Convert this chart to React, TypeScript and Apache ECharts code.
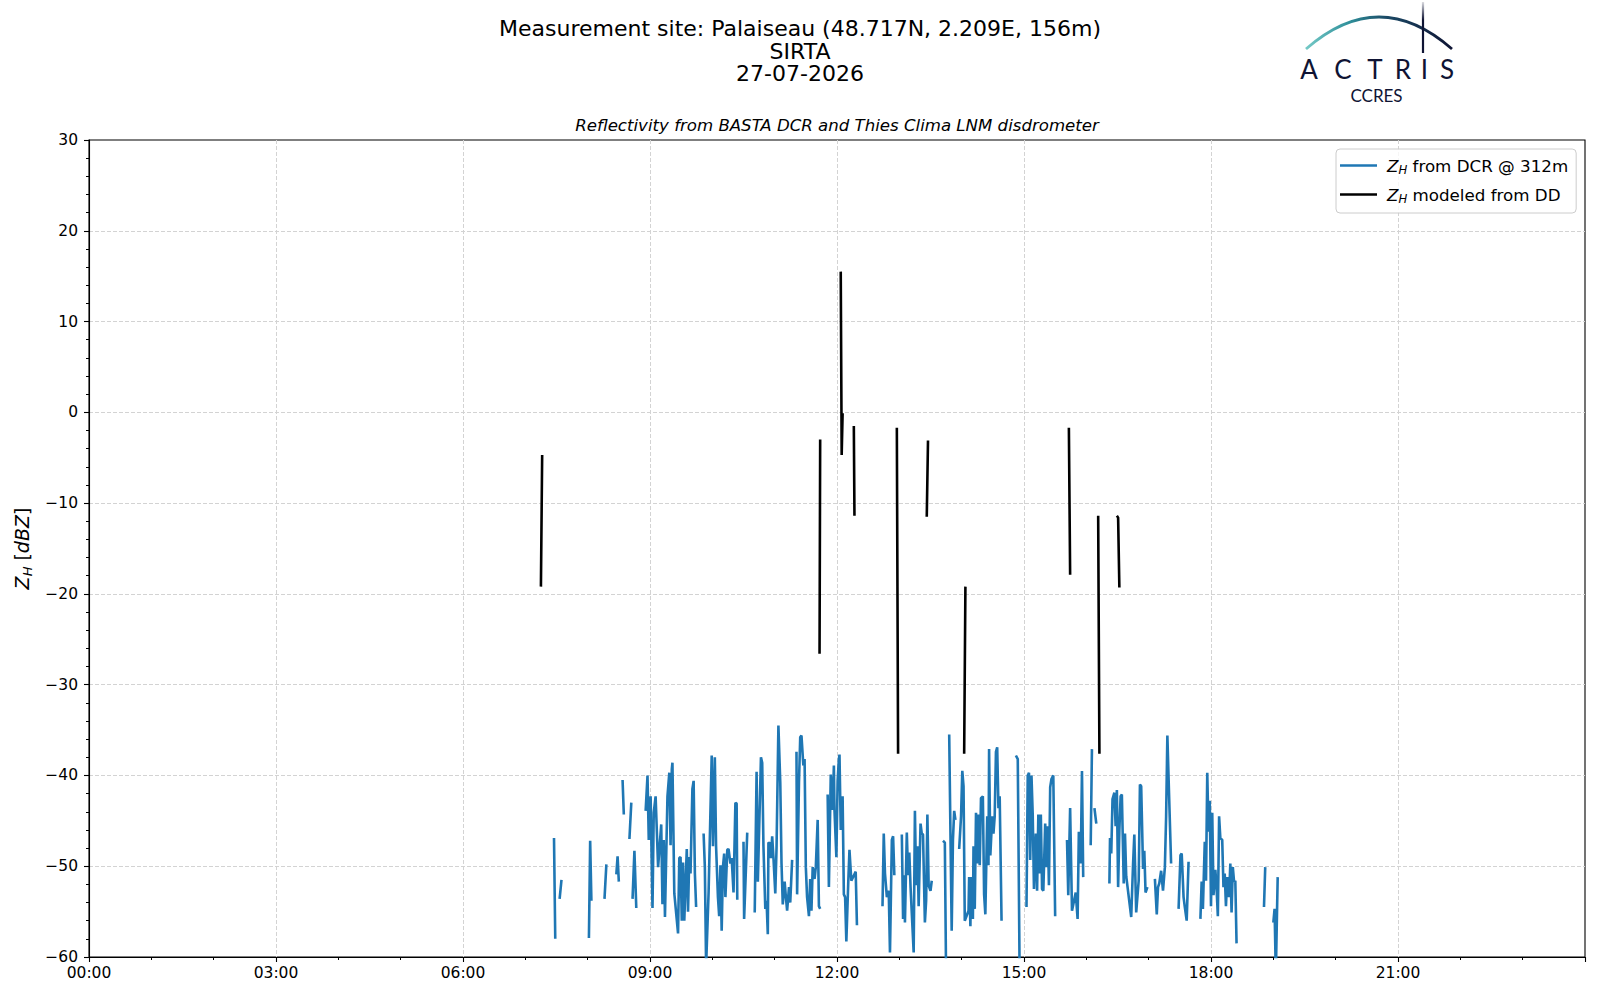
import React, { useEffect, useRef } from 'react';
import * as echarts from 'echarts';

const FONT = '"DejaVu Sans", sans-serif';
const LOGO_FONT = 'Lato, "Open Sans", sans-serif';

const titleLines = ['Measurement site: Palaiseau (48.717N, 2.209E, 156m)', 'SIRTA', '27-07-2026'];
const subTitle = 'Reflectivity from BASTA DCR and Thies Clima LNM disdrometer';

const xTickLabels = ['00:00', '03:00', '06:00', '09:00', '12:00', '15:00', '18:00', '21:00'];

// Z_H from DCR @ 312m (hours UTC, dBZ); null marks a gap in the record
const dcrHours = [
  7.46, 7.48, null,
  7.55, 7.58, null,
  8.02, 8.04, 8.06, null,
  8.27, 8.30, null,
  8.46, 8.48, 8.50, null,
  8.56, 8.58, null,
  8.67, 8.70, null,
  8.72, 8.75, 8.78, null,
  8.93, 8.96, 8.98, 9.01, 9.04, 9.06, 9.09, 9.13, 9.18, 9.20, 9.22, 9.24, 9.28, 9.31, 9.33, 9.35, 9.36, 9.39, 9.45, 9.47, 9.49, 9.51, 9.53, 9.55, 9.59, 9.61, 9.63, 9.65, 9.68, 9.70, 9.72, 9.74, null,
  9.86, 9.88, 9.90, 9.94, 9.99, 10.01, 10.04, 10.06, 10.09, 10.11, 10.13, 10.15, 10.17, 10.19, 10.21, 10.24, 10.26, 10.29, 10.31, 10.34, 10.37, 10.39, 10.40, null,
  10.50, 10.51, 10.56, null,
  10.68, 10.71, 10.73, 10.78, 10.80, 10.82, 10.85, 10.87, 10.89, 10.90, 10.93, 10.94, 10.96, 10.98, 11.01, 11.03, 11.06, 11.09, 11.11, 11.13, 11.16, 11.18, 11.20, 11.23, 11.25, 11.28, null,
  11.35, 11.36, 11.39, 11.41, 11.43, 11.46, 11.48, 11.50, 11.52, 11.55, 11.57, 11.59, 11.61, 11.64, 11.66, 11.69, 11.71, 11.73, null,
  11.85, 11.87, 11.90, 11.93, 11.95, 11.96, 11.99, 12.01, 12.03, 12.04, 12.06, 12.09, 12.11, 12.13, 12.15, 12.18, 12.20, 12.23, 12.30, 12.32, null,
  12.73, 12.75, 12.77, 12.80, 12.83, 12.85, 12.88, 12.90, 12.92, null,
  13.04, 13.06, 13.08, 13.09, 13.12, 13.14, 13.16, 13.18, 13.23, 13.25, 13.27, 13.29, 13.31, 13.34, 13.36, 13.38, 13.41, 13.43, 13.45, 13.47, 13.50, 13.52, null,
  13.70, 13.73, 13.75, null,
  13.80, 13.84, 13.86, 13.88, 13.90, null,
  13.96, 13.99, 14.01, 14.03, 14.05, 14.11, 14.12, 14.14, 14.15, 14.18, 14.19, 14.21, 14.23, 14.25, 14.27, 14.29, 14.31, 14.34, 14.36, 14.38, 14.41, 14.43, 14.44, 14.46, 14.49, 14.51, 14.53, 14.55, 14.57, 14.59, 14.61, 14.64, null,
  14.87, 14.90, 14.93, null,
  15.04, 15.06, 15.08, 15.10, 15.12, 15.14, 15.16, 15.19, 15.21, 15.23, 15.25, 15.27, 15.29, 15.31, 15.34, 15.36, 15.38, 15.40, 15.42, 15.44, 15.47, 15.50, null,
  15.69, 15.71, 15.74, 15.77, 15.83, 15.86, 15.88, 15.91, 15.93, 15.95, null,
  16.07, 16.09, null,
  16.13, 16.16, null,
  16.37, 16.38, 16.40, 16.42, 16.45, 16.47, 16.49, 16.51, 16.53, 16.55, 16.57, 16.60, 16.62, 16.64, 16.72, 16.75, 16.77, 16.80, 16.84, 16.86, 16.88, 16.91, 16.93, 16.95, 16.98, null,
  17.10, 17.13, 17.15, 17.17, 17.20, 17.23, 17.26, 17.28, 17.30, 17.32, 17.36, null,
  17.48, 17.51, 17.53, 17.56, 17.58, 17.61, 17.64, null,
  17.83, 17.85, 17.87, 17.90, 17.92, 17.94, 17.96, 17.98, 18.00, 18.02, 18.04, 18.07, 18.09, 18.11, 18.13, 18.15, 18.18, 18.20, 18.22, 18.24, 18.26, 18.29, 18.31, 18.33, 18.35, 18.37, 18.39, 18.41, null,
  18.85, 18.87, null,
  19.00, 19.02, 19.04, 19.06, 19.07,
];

const dcrDbz = [
  -46.9, -58.0, null,
  -53.6, -51.5, null,
  -57.9, -47.2, -53.8, null,
  -53.6, -49.8, null,
  -50.9, -48.9, -51.7, null,
  -40.5, -44.3, null,
  -47.0, -43.0, null,
  -53.6, -48.3, -54.6, null,
  -43.9, -40.0, -47.1, -42.3, -54.6, -44.1, -42.3, -50.1, -45.4, -54.2, -47.1, -55.6, -42.3, -39.7, -47.7, -39.3, -38.6, -53.0, -57.4, -49.1, -49.0, -56.0, -49.6, -56.0, -48.1, -55.0, -49.0, -50.8, -41.5, -40.6, -50.8, -54.5, null,
  -46.4, -50.1, -61.0, -52.9, -37.8, -47.8, -38.0, -47.8, -53.4, -55.5, -49.9, -57.1, -50.1, -48.6, -53.4, -48.2, -48.1, -49.7, -49.1, -52.9, -43.0, -43.1, -53.7, null,
  -47.3, -55.8, -46.3, null,
  -55.1, -39.6, -51.7, -38.0, -38.6, -47.8, -54.7, -53.8, -57.5, -47.4, -47.5, -49.1, -46.7, -49.0, -53.0, -48.0, -34.5, -40.8, -49.7, -54.2, -51.7, -53.4, -54.9, -52.3, -54.0, -49.3, null,
  -37.4, -53.1, -40.8, -35.8, -35.6, -38.9, -38.2, -50.1, -53.4, -55.5, -51.4, -54.9, -50.1, -51.4, -50.1, -44.9, -54.4, -54.7, null,
  -42.1, -52.3, -39.9, -43.8, -38.9, -43.9, -49.0, -40.6, -38.2, -37.7, -46.0, -42.3, -53.1, -53.4, -58.3, -51.9, -48.2, -51.6, -50.6, -56.5, null,
  -54.4, -46.4, -50.8, -53.4, -52.7, -59.5, -47.1, -46.7, -51.0, null,
  -46.5, -55.8, -51.0, -56.2, -46.3, -51.0, -48.5, -52.3, -59.5, -43.9, -52.1, -47.8, -54.4, -45.3, -46.4, -46.5, -56.2, -53.8, -44.3, -52.1, -52.7, -51.6, null,
  -47.2, -47.4, -62.0, null,
  -35.5, -57.1, -47.1, -43.9, -44.9, null,
  -48.1, -44.5, -39.5, -41.2, -56.0, -54.9, -51.2, -56.6, -51.2, -55.8, -47.8, -54.7, -44.1, -49.7, -44.3, -49.9, -42.5, -42.3, -53.1, -55.3, -44.5, -49.9, -37.1, -48.8, -44.5, -46.4, -44.5, -37.4, -36.9, -43.6, -42.3, -56.0, null,
  -37.8, -38.2, -62.0, null,
  -54.5, -40.0, -39.7, -49.3, -40.0, -44.3, -52.5, -46.4, -52.7, -44.3, -50.8, -44.3, -52.5, -52.7, -45.3, -50.1, -45.6, -52.1, -41.3, -40.4, -40.0, -55.5, null,
  -47.1, -53.2, -43.6, -54.9, -52.9, -55.8, -46.2, -49.7, -39.5, -51.2, null,
  -47.7, -37.1, null,
  -43.6, -45.3, null,
  -51.9, -46.9, -48.6, -42.6, -41.9, -45.6, -41.6, -52.3, -46.0, -42.3, -42.1, -51.9, -46.4, -51.1, -55.6, -49.7, -46.5, -55.1, -51.6, -41.0, -41.2, -50.3, -48.3, -52.9, -52.3, null,
  -51.4, -55.3, -52.3, -51.9, -50.5, -52.7, -50.1, -44.5, -35.6, -40.4, -49.7, null,
  -54.7, -48.8, -48.6, -53.4, -54.5, -56.0, -49.5, null,
  -55.8, -51.7, -54.7, -47.3, -51.6, -39.7, -46.2, -42.8, -54.4, -44.1, -53.2, -50.4, -52.5, -55.5, -44.5, -46.9, -47.1, -52.3, -50.8, -54.4, -51.2, -53.4, -49.7, -55.1, -50.1, -51.7, -51.6, -58.5, null,
  -54.5, -50.1, null,
  -56.2, -54.7, -62.0, -54.7, -51.2,
];

// Z_H modeled from disdrometer DSD
const ddHours = [
  7.25, 7.27, null,
  11.72, 11.73, null,
  12.06, 12.075, 12.09, null,
  12.27, 12.28, null,
  12.96, 12.98, null,
  13.44, 13.46, null,
  14.04, 14.06, null,
  15.72, 15.74, null,
  16.19, 16.21, null,
  16.49, 16.51, 16.53,
];
const ddDbz = [
  -19.2, -4.7, null,
  -26.6, -3.0, null,
  15.5, -4.7, -0.1, null,
  -1.5, -11.4, null,
  -1.7, -37.6, null,
  -11.5, -3.1, null,
  -37.6, -19.2, null,
  -1.7, -17.9, null,
  -11.4, -37.6, null,
  -11.4, -11.6, -19.3,
];

const logoLetters = ['A', 'C', 'T', 'R', 'I', 'S'];
const logoLetterX = [1309, 1343, 1375, 1403, 1424.5, 1447];

function toPairs(hours: (number | null)[], vals: (number | null)[]) {
  return hours.map((h, i) => {
    const v = vals[i];
    if (h == null || v == null) return [NaN, NaN];
    return [h, v];
  });
}

export default function App() {
  const ref = useRef<HTMLDivElement>(null);
  useEffect(() => {
    if (!ref.current) return;
    const chart = echarts.init(ref.current, null, { renderer: 'svg' });
    const navy = '#0f1434';
    const arcGrad = new echarts.graphic.LinearGradient(1306, 0, 1452, 0, [
      { offset: 0, color: '#74c9c6' },
      { offset: 0.3, color: '#2f8f9a' },
      { offset: 0.55, color: '#1b4a66' },
      { offset: 1, color: navy },
    ], true);
    const vGrad = new echarts.graphic.LinearGradient(0, 2, 0, 53, [
      { offset: 0, color: 'rgba(15,20,52,0.15)' },
      { offset: 0.35, color: navy },
      { offset: 1, color: navy },
    ], true);

    const graphics: any[] = [
      ...titleLines.map((t, i) => ({
        type: 'text', x: 800, y: [28, 51.2, 73.7][i],
        style: { text: t, fontSize: 22, fontFamily: FONT, fill: '#000', align: 'center', verticalAlign: 'middle' },
      })),
      {
        type: 'text', x: 837, y: 125,
        style: { text: subTitle, fontSize: 16.6, fontStyle: 'italic', fontFamily: FONT, fill: '#000', align: 'center', verticalAlign: 'middle' },
      },
      {
        type: 'bezierCurve',
        shape: { x1: 1306, y1: 49, x2: 1452, y2: 49, cpx1: 1379, cpy1: -15 },
        style: { stroke: arcGrad, lineWidth: 2.8, fill: 'none' },
      },
      {
        type: 'line',
        shape: { x1: 1423, y1: 2, x2: 1423, y2: 53 },
        style: { stroke: vGrad, lineWidth: 2.2 },
      },
      ...logoLetters.map((l, i) => ({
        type: 'text', x: logoLetterX[i], y: 68.5,
        style: { text: l, fontSize: 26, lineHeight: 20, fontFamily: LOGO_FONT, fill: navy, align: 'center', verticalAlign: 'middle' },
      })),
      {
        type: 'text', x: 1376.5, y: 95,
        style: { text: 'CCRES', fontSize: 17, lineHeight: 14, fontFamily: LOGO_FONT, fill: navy, align: 'center', verticalAlign: 'middle' },
      },
    ];

    const option: any = {
      animation: false,
      backgroundColor: '#ffffff',
      textStyle: { fontFamily: FONT },
      grid: {
        left: 89, right: 15, top: 140, bottom: 43,
        show: true, borderColor: '#000', borderWidth: 1.1, backgroundColor: 'transparent',
      },
      xAxis: {
        type: 'value', min: 0, max: 24, interval: 3,
        axisLine: { show: true, onZero: false, lineStyle: { color: '#000', width: 1.1 } },
        axisTick: { show: true, length: 5, lineStyle: { color: '#000', width: 1.1 } },
        minorTick: { show: true, splitNumber: 3, length: 3, lineStyle: { color: '#000', width: 1 } },
        splitLine: { show: true, showMinLine: false, showMaxLine: false, lineStyle: { color: '#d3d3d3', width: 1, type: [4, 2] } },
        axisLabel: {
          color: '#000', fontSize: 15.5, fontFamily: FONT, margin: 8,
          formatter: (v: number) => (v % 3 === 0 && v < 24 ? xTickLabels[v / 3] : ''),
        },
      },
      yAxis: {
        type: 'value', min: -60, max: 30, interval: 10,
        name: '{i|Z}{s|H}{r| [}{i|dBZ}{r|]}',
        nameLocation: 'middle', nameGap: 54, nameRotate: 90,
        nameTextStyle: {
          color: '#000', fontFamily: FONT, fontSize: 19,
          rich: {
            i: { fontStyle: 'italic', fontSize: 19, color: '#000', fontFamily: FONT, lineHeight: 22 },
            s: { fontStyle: 'italic', fontSize: 13, color: '#000', fontFamily: FONT, lineHeight: 13, padding: [11, 0, 0, 0] },
            r: { fontSize: 19, color: '#000', fontFamily: FONT, lineHeight: 22 },
          },
        },
        axisLine: { show: true, onZero: false, lineStyle: { color: '#000', width: 1.1 } },
        axisTick: { show: true, length: 5, lineStyle: { color: '#000', width: 1.1 } },
        minorTick: { show: true, splitNumber: 5, length: 3, lineStyle: { color: '#000', width: 1 } },
        splitLine: { show: true, showMinLine: false, showMaxLine: false, lineStyle: { color: '#d3d3d3', width: 1, type: [4, 2] } },
        axisLabel: {
          color: '#000', fontSize: 15.5, fontFamily: FONT, margin: 11,
          formatter: (v: number) => (v < 0 ? '\u2212' + Math.abs(v) : String(v)),
        },
      },
      legend: {
        data: ['dcr', 'dd'],
        orient: 'vertical', left: 1336, top: 149,
        itemWidth: 37, itemHeight: 2.4, itemGap: 8, icon: 'rect',
        padding: [6, 8, 8, 4],
        backgroundColor: 'rgba(255,255,255,0.8)', borderColor: '#cccccc', borderWidth: 1, borderRadius: 4,
        selectedMode: false,
        itemStyle: { borderWidth: 0 },
        formatter: (n: string) => (n === 'dcr' ? '{z|Z}{s|H}{t| from DCR @ 312m}' : '{z|Z}{s|H}{t| modeled from DD}'),
        textStyle: {
          color: '#000', fontFamily: FONT, fontSize: 16.7,
          rich: {
            z: { fontStyle: 'italic', fontSize: 16.7, color: '#000', fontFamily: FONT, lineHeight: 20, padding: [0, 0, 0, 5] },
            s: { fontStyle: 'italic', fontSize: 11.7, color: '#000', fontFamily: FONT, lineHeight: 12, padding: [9, 0, 0, 0] },
            t: { fontSize: 16.7, color: '#000', fontFamily: FONT, lineHeight: 20 },
          },
        },
      },
      graphic: { elements: graphics },
      series: [
        {
          name: 'dcr', type: 'line', data: toPairs(dcrHours, dcrDbz),
          symbol: 'none', showSymbol: false, connectNulls: false, clip: true,
          lineStyle: { color: '#1f77b4', width: 2.6 }, itemStyle: { color: '#1f77b4' },
          z: 2,
        },
        {
          name: 'dd', type: 'line', data: toPairs(ddHours, ddDbz),
          symbol: 'none', showSymbol: false, connectNulls: false, clip: true,
          lineStyle: { color: '#000000', width: 2.6 }, itemStyle: { color: '#000000' },
          z: 3,
        },
      ],
    };
    chart.setOption(option);
    return () => chart.dispose();
  }, []);
  return <div ref={ref} style={{ position: 'absolute', left: 0, top: 0, width: 1600, height: 1000 }} />;
}
